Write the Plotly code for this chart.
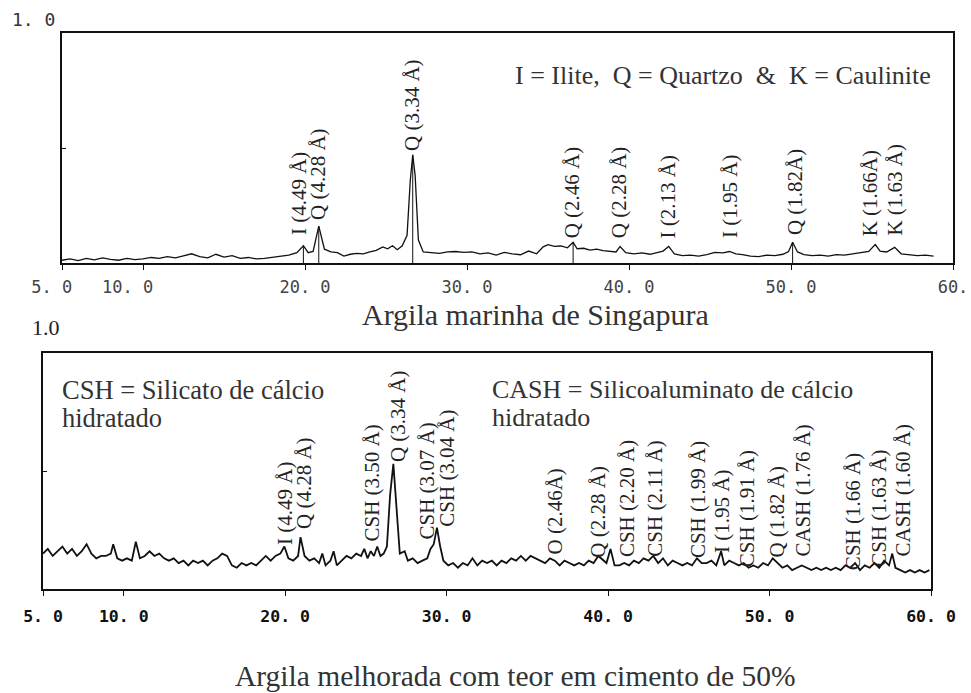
import plotly.graph_objects as go

W, H = 971, 693

# ---------------- data: top panel (Argila marinha de Singapura) ----------------
two_theta_top = [5.0, 5.5, 6.0, 6.5, 7.0, 7.5, 8.0, 8.5, 9.0, 9.5, 10.0, 10.5, 11.0, 11.5, 12.0,
                 12.5, 13.0, 13.5, 14.0, 14.5, 15.0, 15.5, 16.0, 16.5, 17.0, 17.5, 18.0, 18.5,
                 19.0, 19.5, 19.9, 20.2, 20.5, 20.85, 21.2, 21.6, 22.0, 22.4, 22.8, 23.2, 23.6,
                 24.0, 24.4, 24.8, 25.1, 25.4, 25.7, 26.0, 26.3, 26.5, 26.65, 26.8, 27.0, 27.3,
                 27.8, 28.3, 28.8, 29.3, 29.8, 30.3, 30.8, 31.3, 31.8, 32.3, 32.8, 33.3, 33.8,
                 34.3, 34.7, 35.0, 35.4, 35.8, 36.2, 36.55, 36.8, 37.2, 37.6, 38.0, 38.4, 38.8,
                 39.2, 39.45, 39.8, 40.3, 40.8, 41.3, 41.8, 42.1, 42.45, 42.8, 43.3, 43.8, 44.3,
                 44.8, 45.3, 45.8, 46.2, 46.6, 47.0, 47.5, 48.0, 48.5, 49.0, 49.5, 49.85, 50.1,
                 50.4, 50.8, 51.3, 51.8, 52.3, 52.8, 53.3, 53.8, 54.3, 54.8, 55.2, 55.5, 55.9,
                 56.4, 56.8, 57.3, 57.8, 58.3, 58.8]
intensity_top = [0.012, 0.018, 0.010, 0.020, 0.014, 0.022, 0.016, 0.012, 0.020, 0.015, 0.018, 0.024,
                 0.020, 0.028, 0.022, 0.030, 0.040, 0.028, 0.022, 0.038, 0.026, 0.032, 0.020, 0.024,
                 0.018, 0.020, 0.024, 0.030, 0.034, 0.045, 0.075, 0.045, 0.050, 0.160, 0.060, 0.048,
                 0.045, 0.030, 0.038, 0.042, 0.040, 0.048, 0.055, 0.070, 0.062, 0.075, 0.058, 0.075,
                 0.120, 0.360, 0.470, 0.380, 0.100, 0.048, 0.045, 0.042, 0.048, 0.050, 0.046, 0.048,
                 0.040, 0.044, 0.034, 0.046, 0.040, 0.036, 0.052, 0.040, 0.070, 0.080, 0.072, 0.074,
                 0.066, 0.090, 0.062, 0.064, 0.056, 0.060, 0.054, 0.052, 0.048, 0.072, 0.045, 0.040,
                 0.044, 0.038, 0.045, 0.052, 0.072, 0.040, 0.032, 0.034, 0.030, 0.036, 0.046, 0.044,
                 0.050, 0.040, 0.036, 0.030, 0.028, 0.034, 0.032, 0.038, 0.050, 0.090, 0.048, 0.036,
                 0.032, 0.034, 0.030, 0.036, 0.034, 0.040, 0.044, 0.050, 0.080, 0.052, 0.048, 0.068,
                 0.040, 0.036, 0.032, 0.034, 0.030]
stick_top_x = [19.9, 20.85, 26.65, 36.55, 50.1]
stick_top_y = [0.075, 0.160, 0.470, 0.090, 0.090]

top_labels = ["I (4.49 Å)", "Q (4.28 Å)", "Q (3.34 Å)", "Q (2.46 Å)", "Q (2.28 Å)",
              "I (2.13 Å)", "I (1.95 Å)", "Q (1.82Å)", "K (1.66Å)", "K (1.63 Å)"]
top_label_x = [19.6, 20.8, 26.6, 36.5, 39.4, 42.4, 46.2, 50.25, 54.9, 56.4]
top_label_y = [0.113, 0.178, 0.478, 0.100, 0.100, 0.100, 0.100, 0.113, 0.109, 0.109]

# ---------------- data: bottom panel (50% cement) ----------------
two_theta_bot = [5.0, 5.3, 5.6, 5.9, 6.2, 6.5, 6.8, 7.1, 7.4, 7.7, 8.0, 8.3, 8.6, 8.9, 9.2, 9.35,
                 9.6, 9.9, 10.2, 10.5, 10.75, 11.0, 11.3, 11.6, 11.9, 12.2, 12.5, 12.8, 13.1,
                 13.4, 13.7, 14.0, 14.3, 14.6, 14.9, 15.2, 15.5, 15.8, 16.1, 16.4, 16.7, 17.0,
                 17.3, 17.6, 17.9, 18.2, 18.5, 18.8, 19.1, 19.4, 19.7, 19.95, 20.2, 20.5, 20.8,
                 20.95, 21.2, 21.5, 21.8, 22.1, 22.3, 22.5, 22.8, 23.0, 23.2, 23.5, 23.8, 24.1,
                 24.4, 24.7, 24.9, 25.1, 25.3, 25.5, 25.7, 25.9, 26.1, 26.3, 26.5, 26.7, 26.9,
                 27.1, 27.4, 27.6, 27.9, 28.2, 28.5, 28.8, 29.0, 29.2, 29.4, 29.6, 29.8, 30.1,
                 30.4, 30.7, 31.0, 31.3, 31.6, 31.9, 32.2, 32.5, 32.8, 33.1, 33.4, 33.7, 34.0,
                 34.3, 34.6, 34.9, 35.2, 35.5, 35.8, 36.1, 36.4, 36.7, 37.0, 37.3, 37.6, 37.9,
                 38.2, 38.5, 38.8, 39.1, 39.4, 39.7, 39.9, 40.15, 40.4, 40.7, 41.0, 41.3, 41.6,
                 41.9, 42.2, 42.5, 42.8, 43.1, 43.4, 43.7, 44.0, 44.3, 44.6, 44.9, 45.2, 45.5,
                 45.8, 46.1, 46.4, 46.7, 47.0, 47.2, 47.5, 47.8, 48.1, 48.4, 48.7, 49.0, 49.3,
                 49.6, 49.9, 50.2, 50.5, 50.8, 51.1, 51.4, 51.7, 52.0, 52.3, 52.6, 52.9, 53.2,
                 53.5, 53.8, 54.1, 54.4, 54.7, 55.0, 55.3, 55.6, 55.9, 56.2, 56.5, 56.8, 57.1,
                 57.4, 57.6, 57.8, 58.1, 58.4, 58.7, 59.0, 59.3, 59.6, 59.9]
intensity_bot = [0.15, 0.17, 0.14, 0.16, 0.18, 0.15, 0.17, 0.14, 0.16, 0.19, 0.15, 0.13, 0.14, 0.14,
                 0.15, 0.19, 0.13, 0.12, 0.13, 0.12, 0.20, 0.13, 0.14, 0.16, 0.14, 0.15, 0.13, 0.12,
                 0.13, 0.11, 0.12, 0.10, 0.12, 0.11, 0.12, 0.10, 0.12, 0.13, 0.15, 0.14, 0.10, 0.09,
                 0.11, 0.10, 0.11, 0.10, 0.12, 0.14, 0.12, 0.14, 0.15, 0.18, 0.13, 0.12, 0.14, 0.22,
                 0.14, 0.12, 0.13, 0.11, 0.15, 0.10, 0.12, 0.16, 0.10, 0.12, 0.14, 0.13, 0.15, 0.14,
                 0.17, 0.13, 0.16, 0.14, 0.18, 0.14, 0.15, 0.18, 0.40, 0.53, 0.35, 0.15, 0.16, 0.12,
                 0.13, 0.11, 0.12, 0.13, 0.17, 0.19, 0.26, 0.18, 0.12, 0.10, 0.11, 0.09, 0.11, 0.10,
                 0.13, 0.10, 0.12, 0.11, 0.12, 0.10, 0.12, 0.11, 0.13, 0.12, 0.14, 0.12, 0.14, 0.13,
                 0.12, 0.11, 0.13, 0.12, 0.10, 0.12, 0.11, 0.10, 0.11, 0.10, 0.12, 0.11, 0.14, 0.12,
                 0.11, 0.17, 0.10, 0.10, 0.11, 0.10, 0.12, 0.11, 0.13, 0.12, 0.14, 0.11, 0.13, 0.10,
                 0.12, 0.11, 0.10, 0.11, 0.10, 0.13, 0.11, 0.11, 0.12, 0.10, 0.16, 0.10, 0.12, 0.11,
                 0.10, 0.11, 0.09, 0.10, 0.09, 0.11, 0.10, 0.13, 0.11, 0.09, 0.10, 0.08, 0.09, 0.10,
                 0.09, 0.08, 0.09, 0.08, 0.09, 0.08, 0.09, 0.08, 0.10, 0.09, 0.11, 0.08, 0.10, 0.09,
                 0.11, 0.09, 0.12, 0.10, 0.15, 0.09, 0.08, 0.07, 0.08, 0.07, 0.08, 0.07, 0.08]

bot_labels = ["I (4.49 Å)", "Q (4.28 Å)", "CSH (3.50 Å)", "Q (3.34 Å)", "CSH (3.07 Å)",
              "CSH (3.04 Å)", "O (2.46Å)", "Q (2.28 Å)", "CSH (2.20 Å)", "CSH (2.11 Å)",
              "CSH (1.99 Å)", "I (1.95 Å)", "CSH (1.91 Å)", "Q (1.82 Å)", "CASH (1.76 Å)",
              "CSH (1.66 Å)", "CSH (1.63 Å)", "CASH (1.60 Å)"]
bot_label_x = [19.98, 21.2, 25.4, 27.0, 28.8, 30.0, 36.7, 39.37, 41.16, 42.9, 45.56, 47.1,
               48.65, 50.45, 52.06, 55.16, 56.8, 58.25]
bot_label_y = [0.18, 0.244, 0.192, 0.53, 0.20, 0.256, 0.137, 0.124, 0.128, 0.128, 0.124, 0.145,
               0.085, 0.124, 0.128, 0.073, 0.085, 0.128]

tick_vals = [5, 10, 20, 30, 40, 50, 60]
NB = "\u00a0"
tick_text_top = ["5. 0" + NB * 2, "10. 0" + NB * 3, "20. 0", "30. 0", "40. 0", "50. 0", "60."]
tick_text_bot = ["5. 0", "10. 0", "20. 0", "30. 0", "40. 0", "50. 0", "60. 0"]

# ---------------- figure ----------------
SERIF = "Liberation Serif"
MONO = "DejaVu Sans Mono"

fig = go.Figure()
fig.add_trace(go.Scatter(x=two_theta_top, y=intensity_top, mode="lines",
                         line=dict(color="#111", width=1.3), xaxis="x", yaxis="y",
                         showlegend=False, hoverinfo="skip"))
sx, sy = [], []
for xv, yv in zip(stick_top_x, stick_top_y):
    sx += [xv, xv, None]
    sy += [0, yv, None]
fig.add_trace(go.Scatter(x=sx, y=sy, mode="lines", line=dict(color="#111", width=1),
                         xaxis="x", yaxis="y", showlegend=False, hoverinfo="skip"))
fig.add_trace(go.Scatter(x=two_theta_bot, y=intensity_bot, mode="lines",
                         line=dict(color="#111", width=1.8), xaxis="x2", yaxis="y2",
                         showlegend=False, hoverinfo="skip"))

def px_x(p):
    return p / W

def px_y(p):
    return 1 - p / H

annotations = []
for t, xv, yv in zip(top_labels, top_label_x, top_label_y):
    annotations.append(dict(text=t, x=xv, y=yv, xref="x", yref="y", showarrow=False,
                            textangle=-90, xanchor="center", yanchor="bottom",
                            font=dict(family=SERIF, size=21, color="#222")))
for t, xv, yv in zip(bot_labels, bot_label_x, bot_label_y):
    annotations.append(dict(text=t, x=xv, y=yv, xref="x2", yref="y2", showarrow=False,
                            textangle=-90, xanchor="center", yanchor="bottom",
                            font=dict(family=SERIF, size=21, color="#222")))

annotations += [
    dict(text="I = Ilite,  Q = Quartzo  &  K = Caulinite", x=px_x(513), y=px_y(75),
         xref="paper", yref="paper", xanchor="left", yanchor="middle", showarrow=False,
         font=dict(family=SERIF, size=26, color="#333")),
    dict(text="CSH = Silicato de cálcio", x=px_x(60), y=px_y(390),
         xref="paper", yref="paper", xanchor="left", yanchor="middle", showarrow=False,
         font=dict(family=SERIF, size=26.5, color="#333")),
    dict(text="hidratado", x=px_x(60), y=px_y(418),
         xref="paper", yref="paper", xanchor="left", yanchor="middle", showarrow=False,
         font=dict(family=SERIF, size=26.5, color="#333")),
    dict(text="CASH = Silicoaluminato de cálcio", x=px_x(490), y=px_y(389),
         xref="paper", yref="paper", xanchor="left", yanchor="middle", showarrow=False,
         font=dict(family=SERIF, size=26, color="#333")),
    dict(text="hidratado", x=px_x(490), y=px_y(417),
         xref="paper", yref="paper", xanchor="left", yanchor="middle", showarrow=False,
         font=dict(family=SERIF, size=26, color="#333")),
    dict(text="Argila marinha de Singapura", x=px_x(535), y=px_y(314),
         xref="paper", yref="paper", xanchor="center", yanchor="middle", showarrow=False,
         font=dict(family=SERIF, size=30, color="#333")),
    dict(text="Argila melhorada com teor em cimento de 50%", x=px_x(515), y=px_y(676),
         xref="paper", yref="paper", xanchor="center", yanchor="middle", showarrow=False,
         font=dict(family=SERIF, size=29.5, color="#333")),
    dict(text="1. 0", x=px_x(33), y=px_y(20),
         xref="paper", yref="paper", xanchor="center", yanchor="middle", showarrow=False,
         font=dict(family=MONO, size=18, color="#333")),
    dict(text="1.0", x=px_x(46), y=px_y(327),
         xref="paper", yref="paper", xanchor="center", yanchor="middle", showarrow=False,
         font=dict(family=SERIF, size=22, color="#222")),
]

common_x = dict(range=[5, 60], showgrid=False, zeroline=False, showline=True, mirror=True,
                linecolor="#111", ticks="outside", ticklen=5, tickcolor="#111",
                tickvals=tick_vals, automargin=False, ticklabeloverflow="allow")
common_y = dict(range=[0, 1], showgrid=False, zeroline=False, showline=True, mirror=True,
                linecolor="#111", ticks="inside", ticklen=4, tickcolor="#111",
                tickvals=[0.5], showticklabels=False, automargin=False)

fig.update_layout(
    width=W, height=H, margin=dict(l=0, r=0, t=0, b=0, autoexpand=False),
    paper_bgcolor="white", plot_bgcolor="white", showlegend=False,
    xaxis=dict(common_x, domain=[px_x(62), px_x(953)], anchor="y", linewidth=1.5,
               ticktext=tick_text_top, ticklabelstandoff=3,
               tickfont=dict(family=MONO, size=17, color="#444")),
    yaxis=dict(common_y, domain=[px_y(263), px_y(33)], anchor="x", linewidth=1.5),
    xaxis2=dict(common_x, domain=[px_x(43), px_x(931)], anchor="y2", linewidth=2.2,
                ticktext=tick_text_bot, ticklabelstandoff=6,
                tickfont=dict(family=MONO, size=16.5, color="#111", weight="bold")),
    yaxis2=dict(common_y, domain=[px_y(589), px_y(353)], anchor="x2", linewidth=2.2),
    annotations=annotations,
)

fig.write_html("out.html")
